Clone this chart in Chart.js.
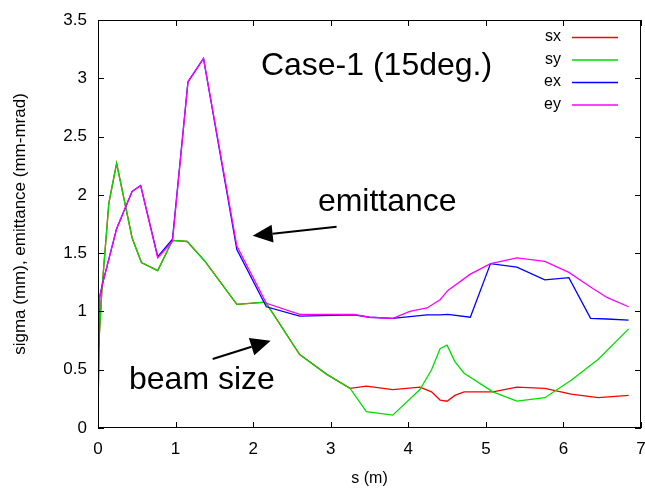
<!DOCTYPE html>
<html>
<head>
<meta charset="utf-8">
<script src="https://cdn.jsdelivr.net/npm/chart.js@4/dist/chart.umd.min.js"></script>
<style>
  html, body { margin: 0; padding: 0; background: #fff; }
  #wrap { width: 645px; height: 493px; }
</style>
</head>
<body>
<div id="wrap"><canvas id="beamChart"></canvas></div>
<script>
/* global Chart */

// s (m) positions for the beam size curves
const sBeam = [0, 0.05, 0.14, 0.24, 0.44, 0.56, 0.77, 0.96, 1.15, 1.38, 1.79, 2.16, 2.6, 2.95, 3.25,
  3.46, 3.8, 4.15, 4.3, 4.41, 4.5, 4.6, 4.72, 5.09, 5.4, 5.76, 6.1, 6.45, 6.84]
const sx = [0.6, 1.18, 1.93, 2.27, 1.63, 1.42, 1.35, 1.61, 1.6, 1.43, 1.06, 1.08, 0.63, 0.46, 0.34,
  0.36, 0.33, 0.35, 0.31, 0.24, 0.23, 0.28, 0.31, 0.31, 0.35, 0.34, 0.29, 0.26, 0.28]
const sy = [0.6, 1.18, 1.93, 2.27, 1.63, 1.42, 1.35, 1.61, 1.6, 1.43, 1.06, 1.08, 0.63, 0.46, 0.34,
  0.14, 0.11, 0.33, 0.5, 0.68, 0.71, 0.57, 0.47, 0.31, 0.23, 0.26, 0.41, 0.59, 0.85]

// s (m) positions for the emittance curves
const sEmit = [0, 0.02, 0.06, 0.24, 0.44, 0.55, 0.77, 0.96, 1.16, 1.36, 1.79, 2.17, 2.6, 3.3, 3.5,
  3.8, 4.02, 4.24, 4.41, 4.51, 4.8, 5.06, 5.4, 5.76, 6.07, 6.35, 6.56, 6.84]
const ex = [0.1, 1.12, 1.24, 1.71, 2.03, 2.08, 1.47, 1.62, 2.97, 3.17, 1.53, 1.04, 0.96, 0.97, 0.95,
  0.94, 0.955, 0.97, 0.97, 0.975, 0.95, 1.41, 1.38, 1.27, 1.29, 0.94, 0.935, 0.925]
const ey = [0.1, 1.12, 1.24, 1.71, 2.03, 2.08, 1.46, 1.6, 2.97, 3.17, 1.56, 1.07, 0.975, 0.975, 0.95,
  0.94, 1.0, 1.03, 1.1, 1.18, 1.32, 1.41, 1.46, 1.43, 1.335, 1.21, 1.12, 1.04]

const xTicks = [0, 1, 2, 3, 4, 5, 6, 7]
const yTicks = [0, 0.5, 1, 1.5, 2, 2.5, 3, 3.5]

const pts = (xs, ys) => xs.map((x, i) => ({ x: x, y: ys[i] }))

Chart.defaults.font.family = "'Liberation Sans', Arial, sans-serif"
Chart.defaults.font.size = 17
Chart.defaults.color = '#000'

// gnuplot style frame with inward ticks on all four sides
const framePlugin = {
  id: 'frame',
  afterDatasetsDraw (chart) {
    const { ctx, chartArea: a, scales } = chart
    const len = 6
    ctx.save()
    ctx.strokeStyle = '#000'
    ctx.lineWidth = 1
    ctx.strokeRect(a.left + 0.5, a.top + 0.5, a.right - a.left - 1, a.bottom - a.top - 1)
    ctx.beginPath()
    xTicks.forEach(v => {
      const px = Math.round(scales.x.getPixelForValue(v)) + 0.5
      ctx.moveTo(px, a.bottom); ctx.lineTo(px, a.bottom - len)
      ctx.moveTo(px, a.top); ctx.lineTo(px, a.top + len)
    })
    yTicks.forEach(v => {
      const py = Math.round(scales.y.getPixelForValue(v)) + 0.5
      ctx.moveTo(a.left, py); ctx.lineTo(a.left + len, py)
      ctx.moveTo(a.right, py); ctx.lineTo(a.right - len, py)
    })
    ctx.stroke()
    ctx.restore()
  }
}

// legend in the top right corner: label then a short line sample
const keyPlugin = {
  id: 'key',
  afterDraw (chart) {
    const { ctx, chartArea: a } = chart
    ctx.save()
    ctx.font = '16px ' + Chart.defaults.font.family
    ctx.textAlign = 'right'
    ctx.textBaseline = 'middle'
    chart.data.datasets.forEach((ds, i) => {
      const y = a.top + 17 + i * 22.5
      ctx.fillStyle = '#000'
      ctx.fillText(ds.label, a.right - 80, y)
      ctx.strokeStyle = ds.borderColor
      ctx.lineWidth = 1.5
      ctx.beginPath()
      ctx.moveTo(a.right - 69, y + 0.5)
      ctx.lineTo(a.right - 23, y + 0.5)
      ctx.stroke()
    })
    ctx.restore()
  }
}

// text labels and arrows, placed in data coordinates
const notes = [
  { text: 'Case-1 (15deg.)', x: 2.1, y: 3.03, size: 32 },
  { text: 'emittance', x: 2.835, y: 1.86, size: 32 },
  { text: 'beam size', x: 0.4, y: 0.335, size: 32 }
]
const arrows = [
  { from: [3.076, 1.726], to: [1.994, 1.649] },
  { from: [1.478, 0.592], to: [2.226, 0.749] }
]

const notesPlugin = {
  id: 'notes',
  afterDatasetsDraw (chart) {
    const { ctx, scales } = chart
    const X = v => scales.x.getPixelForValue(v)
    const Y = v => scales.y.getPixelForValue(v)
    ctx.save()
    ctx.fillStyle = '#000'
    ctx.textAlign = 'left'
    ctx.textBaseline = 'alphabetic'
    notes.forEach(n => {
      ctx.font = n.size + 'px ' + Chart.defaults.font.family
      ctx.fillText(n.text, X(n.x), Y(n.y))
    })
    arrows.forEach(ar => {
      const x0 = X(ar.from[0]); const y0 = Y(ar.from[1])
      const x1 = X(ar.to[0]); const y1 = Y(ar.to[1])
      const ang = Math.atan2(y1 - y0, x1 - x0)
      const head = 20
      const half = 9
      const bx = x1 - head * Math.cos(ang)
      const by = y1 - head * Math.sin(ang)
      ctx.strokeStyle = '#000'
      ctx.lineWidth = 2
      ctx.beginPath()
      ctx.moveTo(x0, y0)
      ctx.lineTo(bx, by)
      ctx.stroke()
      ctx.beginPath()
      ctx.moveTo(x1, y1)
      ctx.lineTo(bx + half * Math.sin(ang), by - half * Math.cos(ang))
      ctx.lineTo(bx - half * Math.sin(ang), by + half * Math.cos(ang))
      ctx.closePath()
      ctx.fill()
    })
    ctx.restore()
  }
}

window.addEventListener('load', function () {
  const ctx = document.getElementById('beamChart').getContext('2d')
  const line = (label, color, data, order) => ({
    label: label,
    data: data,
    borderColor: color,
    backgroundColor: color,
    borderWidth: 1.3,
    pointRadius: 0,
    tension: 0,
    fill: false,
    order: order
  })
  // eslint-disable-next-line no-unused-vars
  const beamChart = new Chart(ctx, {
    type: 'line',
    data: {
      datasets: [
        line('sx', '#ff0000', pts(sBeam, sx), 4),
        line('sy', '#00dd00', pts(sBeam, sy), 3),
        line('ex', '#0000ff', pts(sEmit, ex), 2),
        line('ey', '#ff00ff', pts(sEmit, ey), 1)
      ]
    },
    options: {
      responsive: true,
      maintainAspectRatio: false,
      animation: false,
      layout: { padding: { left: 0, right: 4, top: 20, bottom: 0 } },
      plugins: {
        legend: { display: false },
        tooltip: { enabled: false }
      },
      scales: {
        x: {
          type: 'linear',
          min: 0,
          max: 7,
          afterFit: s => { s.height = 65; s.paddingLeft = 0; s.paddingRight = 0 },
          afterBuildTicks: s => { s.ticks = xTicks.map(v => ({ value: v })) },
          grid: { display: false, drawTicks: false },
          border: { display: false },
          ticks: { padding: 11, maxRotation: 0, callback: v => String(v) },
          title: { display: true, text: 's (m)', font: { size: 16 }, padding: { top: 0, bottom: 5 } }
        },
        y: {
          type: 'linear',
          min: 0,
          max: 3.5,
          afterFit: s => { s.width = 98; s.paddingTop = 0; s.paddingBottom = 0 },
          afterBuildTicks: s => { s.ticks = yTicks.map(v => ({ value: v })) },
          grid: { display: false, drawTicks: false },
          border: { display: false },
          ticks: { padding: 11, callback: v => String(v) },
          title: {
            display: true,
            text: 'sigma (mm), emittance (mm-mrad)',
            padding: { top: 10, bottom: 0 }
          }
        }
      }
    },
    plugins: [framePlugin, keyPlugin, notesPlugin]
  })
})
</script>
</body>
</html>
